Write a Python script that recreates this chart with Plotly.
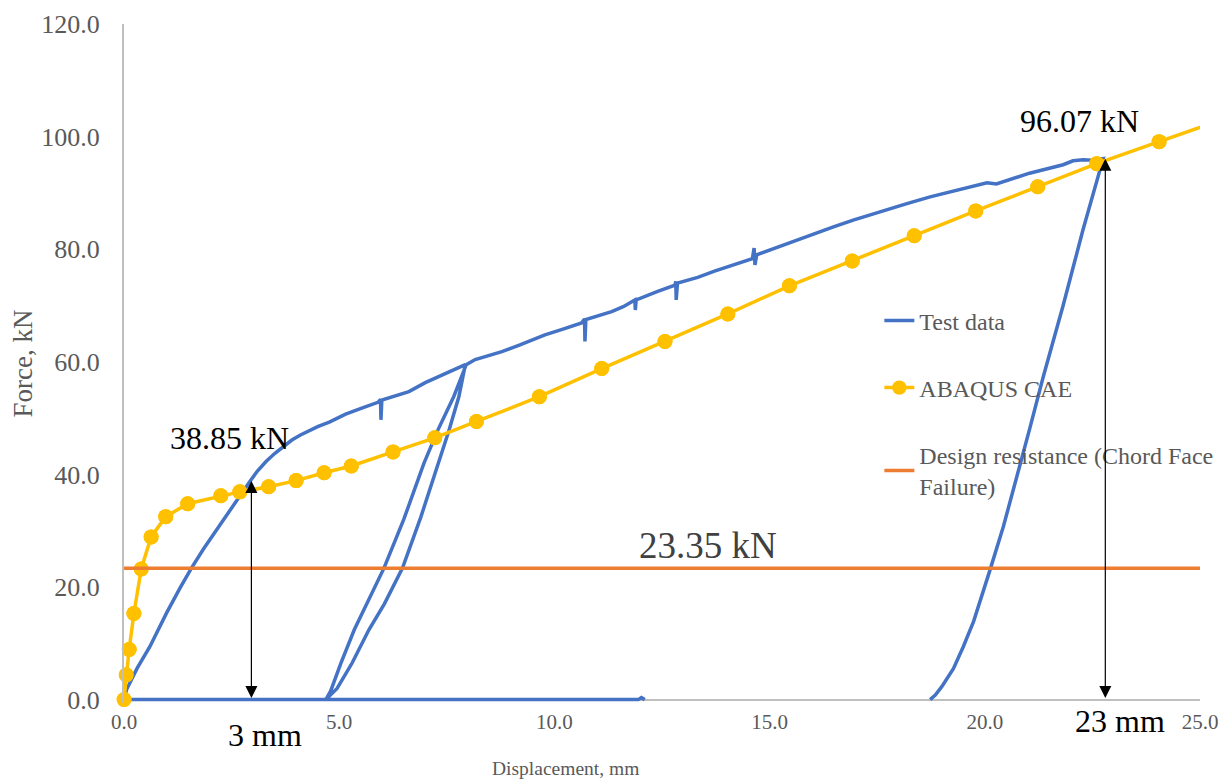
import plotly.graph_objects as go

# ---------------- data ----------------
# Test data (blue): baseline, first loading, unload/reload loop, main loading, final unloading
test_x = [12.1, 12.02, 11.95, 8.0, 4.0, 0.0,
          0.06, 0.3, 0.6, 0.99, 1.3, 1.57, 1.85, 2.15, 2.5, 2.92, 3.1, 3.3, 3.5, 3.7, 3.9,
          4.1, 4.3, 4.5, 4.77,
          5.15, 5.54, 5.9, 5.96, 5.97, 5.99, 6.3, 6.62, 7.0, 7.47, 7.93,
          7.86, 7.78, 7.55, 7.31, 6.9, 6.47, 6.05, 5.69, 5.3, 4.95, 4.69,
          4.8, 5.04, 5.35, 5.7, 6.04, 6.5, 6.97, 7.3, 7.66, 7.85, 7.95,
          8.16, 8.5, 8.78, 9.2, 9.78, 10.2, 10.63, 10.7, 10.71, 10.73, 11.0, 11.33, 11.6,
          11.87, 11.88, 11.9, 12.4, 12.8, 12.82, 12.83, 12.86, 13.33, 13.72, 14.26, 14.6,
          14.64, 14.66, 14.7, 15.42, 16.03, 16.5, 16.96, 17.58, 18.19, 18.73, 19.5, 20.05,
          20.27, 21.04, 21.82, 22.05, 22.28, 22.5, 22.75,
          22.28, 21.82, 21.36, 21.05, 20.74, 20.43, 20.12, 19.74, 19.5, 19.27, 19.0, 18.85, 18.73]
test_y = [0.0, 0.35, 0.0, 0.0, 0.0, 0.0,
          1.8, 5.5, 9.4, 15.4, 19.8, 23.4, 26.8, 30.2, 34.2, 38.7, 40.6, 42.3, 43.7, 45.0, 46.1,
          47.0, 47.8, 48.5, 49.3,
          50.7, 51.8, 52.8, 53.3, 49.7, 53.2, 54.0, 54.7, 56.3, 58.0, 59.5,
          56.8, 53.8, 47.8, 42.0, 32.5, 23.35, 17.0, 12.4, 6.5, 2.0, 0.0,
          1.5, 6.5, 12.4, 17.8, 23.35, 32.0, 42.0, 48.0, 53.8, 57.5, 59.5,
          60.4, 61.2, 61.8, 63.0, 64.8, 65.8, 66.9, 67.6, 63.6, 67.5, 68.2, 68.9, 69.8,
          71.0, 69.2, 71.0, 72.5, 73.6, 74.3, 71.0, 74.0, 75.0, 76.1, 77.5, 78.3,
          80.2, 77.2, 79.0, 81.0, 82.8, 84.0, 85.2, 86.7, 88.1, 89.3, 90.7, 91.8,
          91.6, 93.5, 95.0, 95.7, 95.9, 95.8, 96.07,
          83.4, 70.0, 57.4, 48.3, 39.2, 30.7, 23.0, 13.9, 9.4, 5.5, 2.3, 0.8, 0.0]

# ABAQUS CAE (yellow)
fea_x = [0.0, 0.05, 0.12, 0.23, 0.4, 0.63, 0.97, 1.48, 2.25, 2.69, 3.36, 4.0, 4.65, 5.28,
         6.25, 7.22, 8.19, 9.65, 11.1, 12.57, 14.03, 15.46, 16.92, 18.36, 19.79, 21.23,
         22.6, 24.05, 25.5]
fea_y = [0.0, 4.4, 8.9, 15.3, 23.2, 28.9, 32.5, 34.8, 36.2, 36.9, 37.8, 38.9, 40.3, 41.5,
         44.0, 46.5, 49.4, 53.8, 58.8, 63.6, 68.5, 73.5, 77.9, 82.4, 86.8, 91.1,
         95.2, 99.1, 103.0]

# Design resistance (orange)
design_x = [0.0, 25.0]
design_y = [23.35, 23.35]

# Annotated values
peak1_x, peak1_y = 2.96, 38.85
peak2_x, peak2_y = 22.8, 96.07

x_ticks = [0, 5, 10, 15, 20, 25]
y_ticks = [0, 20, 40, 60, 80, 100, 120]

SERIF = "Liberation Serif, Times New Roman, serif"
GREY = "#595959"
YEL = "#FFC000"

fig = go.Figure()

fig.add_trace(go.Scatter(
    x=test_x, y=test_y, mode="lines", name="Test data",
    line=dict(color="#4472C4", width=3.5), legendgroup="a"))

msizes = [15] * (len(fea_x) - 1) + [0]
fig.add_trace(go.Scatter(
    x=fea_x, y=fea_y, mode="lines+markers", name="ABAQUS CAE",
    line=dict(color=YEL, width=3.5),
    marker=dict(color=YEL, size=msizes, opacity=1, line=dict(width=0)),
    legendgroup="b"))
# unclipped markers overlay (so the marker at the origin is fully visible)
fig.add_trace(go.Scatter(
    x=fea_x, y=fea_y, mode="markers", showlegend=False, hoverinfo="skip",
    marker=dict(color=YEL, size=msizes, opacity=1, line=dict(width=0)),
    cliponaxis=False, legendgroup="b"))

fig.add_trace(go.Scatter(
    x=design_x, y=design_y, mode="lines",
    name="Design resistance (Chord Face<br>Failure)",
    line=dict(color="#ED7D31", width=3.5), legendgroup="c"))

# double-headed arrows
for px, py in [(peak1_x, peak1_y), (peak2_x, peak2_y)]:
    fig.add_annotation(x=px, y=py, ax=px, ay=0, xref="x", yref="y", axref="x", ayref="y",
                       showarrow=True, arrowhead=2, startarrowhead=2, arrowside="end+start",
                       arrowsize=2.0, startarrowsize=2.0, arrowwidth=1.2, arrowcolor="black",
                       text="")

ann_font = dict(family=SERIF, size=32, color="black")
fig.add_annotation(x=2.46, y=46.5, text="38.85 kN", showarrow=False, font=ann_font)
fig.add_annotation(x=22.2, y=102.8, text="96.07 kN", showarrow=False, font=ann_font)
fig.add_annotation(x=13.57, y=27.3, text="23.35 kN", showarrow=False,
                   font=dict(family=SERIF, size=37, color="#404040"))
fig.add_annotation(x=3.28, y=-0.0465, yref="paper", yanchor="middle", text="3 mm",
                   showarrow=False, font=ann_font)
fig.add_annotation(x=23.14, y=-0.027, yref="paper", yanchor="middle", text="23 mm",
                   showarrow=False, font=ann_font)
fig.add_annotation(x=10.25, y=-0.0965, yref="paper", yanchor="middle", text="Displacement, mm",
                   showarrow=False, font=dict(family=SERIF, size=19.5, color=GREY))

fig.update_layout(
    width=1230, height=780,
    margin=dict(l=116, r=38, t=16, b=84.6, autoexpand=False),
    paper_bgcolor="white", plot_bgcolor="white",
    font=dict(family=SERIF, color=GREY),
    showlegend=True,
    legend=dict(x=0.702, y=0.596, xanchor="left", yanchor="top",
                font=dict(family=SERIF, size=24, color=GREY),
                bgcolor="rgba(0,0,0,0)", tracegroupgap=33),
    xaxis=dict(range=[0, 25], tickvals=x_ticks, ticktext=[f"{v:.1f}" for v in x_ticks],
               showgrid=False, zeroline=False, showline=False, ticks="", automargin=False,
               ticklabelstandoff=4,
               tickfont=dict(family=SERIF, size=21, color=GREY)),
    yaxis=dict(range=[-0.6, 120], tickvals=y_ticks, ticktext=[f"{v:.1f}" for v in y_ticks],
               showgrid=False, zeroline=True, zerolinecolor="#BFBFBF", zerolinewidth=2,
               showline=True, linecolor="#BFBFBF", linewidth=2, ticks="", automargin=False,
               ticklabelstandoff=17,
               tickfont=dict(family=SERIF, size=26, color=GREY),
               title=dict(text="Force, kN", font=dict(family=SERIF, size=27, color=GREY),
                          standoff=15)),
)

fig.write_html("out.html")
